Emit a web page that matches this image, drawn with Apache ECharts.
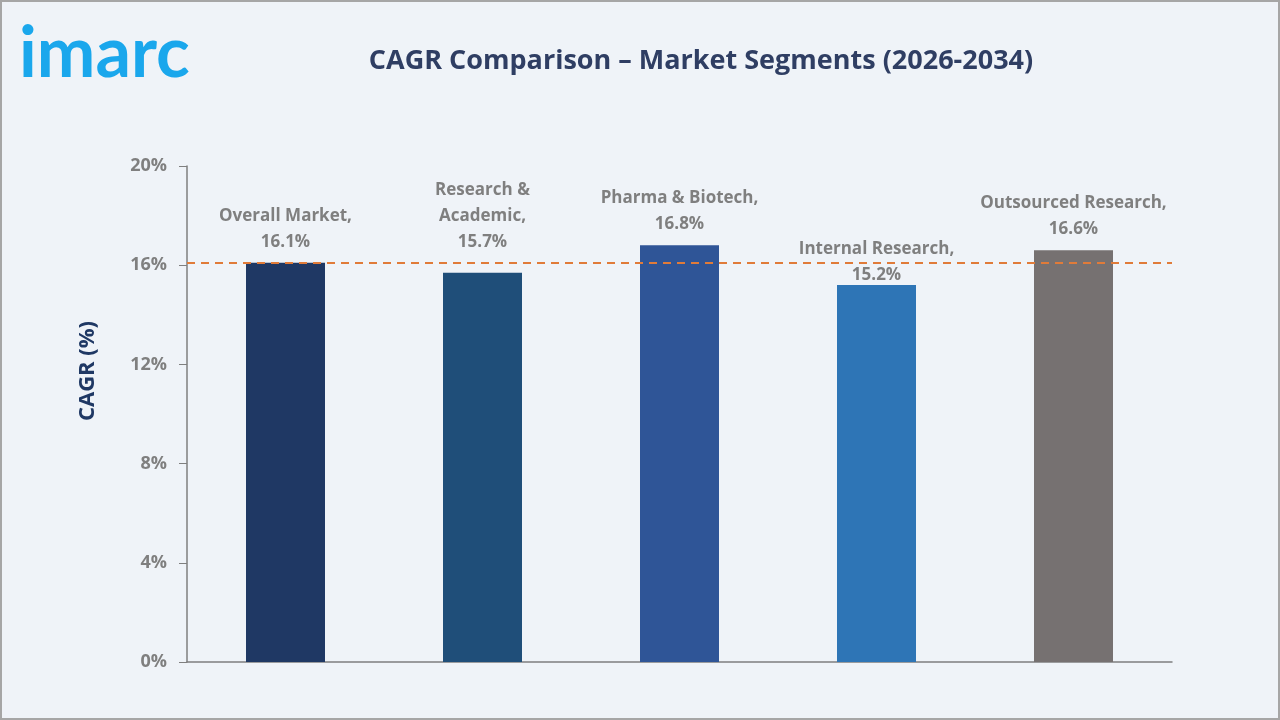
<!DOCTYPE html>
<html>
<head>
<meta charset="utf-8">
<script src="https://cdn.jsdelivr.net/npm/echarts@6/dist/echarts.min.js"></script>
<style>
  html, body { margin: 0; padding: 0; background: #eff3f8; }
  #main { width: 1280px; height: 720px; }
</style>
</head>
<body>
<div id="main"></div>
<script>
// segments and their CAGR values (%)
const segments = ['Overall Market', 'Research &\nAcademic', 'Pharma & Biotech', 'Internal Research', 'Outsourced Research'];
const cagr = [16.1, 15.7, 16.8, 15.2, 16.6];
const barColors = ['#1f3864', '#1f4e79', '#2f5597', '#2e75b6', '#767171'];
const labelShift = [0, -9, 0, 11, 0];
const overallLine = 16.1;

let myChart = echarts.init(document.getElementById('main'));

const font = '"Open Sans", Lato, sans-serif';

myChart.setOption({
   backgroundColor: '#eff3f8',
   textStyle: { fontFamily: font },
   title: {
      text: 'CAGR Comparison – Market Segments (2026-2034)',
      left: 696,
      textAlign: 'center',
      top: 43,
      textStyle: { fontSize: 27, fontWeight: 'bold', color: '#2f3e63', fontFamily: font }
   },
   graphic: [
      {
         type: 'rect',
         shape: { x: 1, y: 1, width: 1278, height: 718 },
         style: { fill: 'none', stroke: '#a6a6a6', lineWidth: 2 },
         silent: true
      },
      {
         type: 'text',
         left: 19,
         top: 19,
         style: { text: 'imarc', fill: '#1aa7ec', font: 'bold 70px Lato, sans-serif' }
      },
      {
         type: 'text',
         x: 88,
         y: 371,
         rotation: Math.PI / 2,
         style: {
            text: 'CAGR (%)',
            fill: '#1f3864',
            font: 'bold 22px ' + font,
            align: 'center',
            verticalAlign: 'middle'
         }
      }
   ],
   grid: {
      left: 187,
      right: 108,
      top: 166,
      bottom: 58
   },
   xAxis: {
      type: 'category',
      data: segments,
      axisLine: { lineStyle: { color: '#7f7f7f', width: 1.5 } },
      axisTick: { show: false },
      axisLabel: { show: false }
   },
   yAxis: {
      type: 'value',
      min: 0,
      max: 20,
      interval: 4,
      axisLine: { show: true, lineStyle: { color: '#7f7f7f', width: 1.5 } },
      axisTick: { show: true, length: 8, lineStyle: { color: '#7f7f7f' } },
      splitLine: { show: false },
      axisLabel: {
         formatter: '{value}%',
         fontSize: 18,
         fontWeight: 'bold',
         color: '#7f7f7f',
         margin: 20,
         fontFamily: font
      }
   },
   series: [{
      type: 'bar',
      barWidth: 79,
      data: cagr.map((v, i) => ({
         value: v,
         itemStyle: { color: barColors[i] },
         label: { offset: [0, labelShift[i]] }
      })),
      label: {
         show: true,
         position: 'top',
         distance: 8,
         color: '#7f7f7f',
         fontSize: 17,
         fontWeight: 'bold',
         lineHeight: 26,
         align: 'center',
         fontFamily: font,
         formatter: p => p.name + ',\n' + p.value.toFixed(1) + '%'
      },
      markLine: {
         silent: true,
         symbol: 'none',
         label: { show: false },
         lineStyle: { color: '#e07b39', type: [8, 6], width: 2 },
         data: [{ yAxis: overallLine }]
      },
      z: 2
   }]
});
</script>
</body>
</html>
